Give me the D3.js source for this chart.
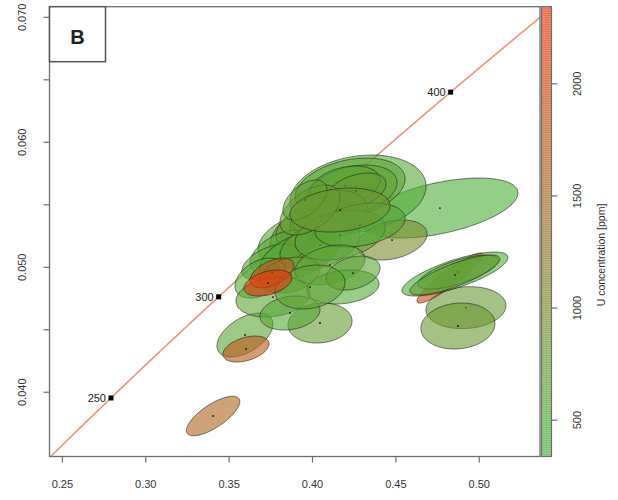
<!DOCTYPE html>
<html><head><meta charset="utf-8">
<script src="https://cdn.jsdelivr.net/npm/d3@7"></script>
<style>
body{margin:0;background:#fff}
svg{display:block;font-family:"Liberation Sans",Arial,Helvetica,sans-serif}
</style>
</head><body>
<svg id="chart" width="618" height="500"></svg>
<script>
// axis ticks
const xTicks = [0.25, 0.30, 0.35, 0.40, 0.45, 0.50];
const yTicks = [0.040, 0.045, 0.050, 0.055, 0.060, 0.065, 0.070];
const yTickLabels = ["0.040", "", "0.050", "", "0.060", "", "0.070"];
const uTicks = [500, 1000, 1500, 2000];
const ageTicks = [250, 300, 350, 400];
const ageLabels = ["250", "300", "350", "400"];

// analyses: 207Pb/235U, 206Pb/238U, their errors, error correlation, U content
const ex   = [0.3404, 0.3595, 0.3601, 0.4920, 0.4872, 0.4824, 0.4854, 0.4872, 0.4854, 0.4764, 0.4273,
              0.4225, 0.4237, 0.4195, 0.4261, 0.4477, 0.3865, 0.3925, 0.3985, 0.4045, 0.4105, 0.3805,
              0.3745, 0.3925, 0.4045, 0.4165, 0.4285, 0.3985, 0.3955, 0.4165, 0.3685, 0.3865, 0.4105,
              0.3763, 0.4183, 0.4045, 0.3865, 0.4243, 0.3985, 0.3757, 0.3733];
const esx  = [0.0160, 0.0168, 0.0138, 0.0240, 0.0222, 0.0198, 0.0318, 0.0240, 0.0270, 0.0468, 0.0408,
              0.0330, 0.0270, 0.0210, 0.0180, 0.0210, 0.0192, 0.0180, 0.0204, 0.0180, 0.0228, 0.0180,
              0.0168, 0.0240, 0.0240, 0.0270, 0.0270, 0.0180, 0.0132, 0.0300, 0.0150, 0.0180, 0.0210,
              0.0222, 0.0216, 0.0192, 0.0180, 0.0162, 0.0210, 0.0132, 0.0144];
const ey   = [0.03810, 0.04458, 0.04346, 0.04677, 0.04530, 0.04914, 0.04946, 0.04962, 0.04938, 0.05474, 0.05586,
              0.05634, 0.05618, 0.05650, 0.05610, 0.05218, 0.05218, 0.05282, 0.05330, 0.05378, 0.05418, 0.05122,
              0.05042, 0.05098, 0.05178, 0.05258, 0.05338, 0.05458, 0.05538, 0.05458, 0.04914, 0.04938, 0.05018,
              0.04762, 0.04842, 0.04554, 0.04634, 0.04954, 0.04842, 0.04954, 0.04874];
const esy  = [0.00158, 0.00176, 0.00104, 0.00168, 0.00184, 0.00200, 0.00176, 0.00136, 0.00160, 0.00240, 0.00312,
              0.00240, 0.00200, 0.00160, 0.00144, 0.00160, 0.00192, 0.00208, 0.00192, 0.00176, 0.00200, 0.00176,
              0.00144, 0.00200, 0.00200, 0.00200, 0.00176, 0.00200, 0.00160, 0.00176, 0.00160, 0.00144, 0.00160,
              0.00160, 0.00136, 0.00160, 0.00136, 0.00136, 0.00176, 0.00120, 0.00104];
const erho = [0.73, 0.50, 0.40, 0.10, 0.10, 0.92, 0.75, 0.70, 0.80, 0.50, 0.20,
              0.30, 0.30, 0.30, 0.40, 0.30, 0.40, 0.50, 0.40, 0.30, 0.20, 0.50,
              0.50, 0.50, 0.40, 0.30, 0.30, 0.50, 0.50, 0.20, 0.40, 0.30, 0.30,
              0.20, 0.20, 0.10, 0.20, 0.30, 0.20, 0.50, 0.40];
const eU   = [1600, 600, 1800, 750, 780, 2100, 450, 550, 700, 450, 500,
              600, 650, 600, 700, 1000, 600, 700, 800, 650, 750, 550,
              600, 500, 700, 600, 550, 650, 700, 800, 500, 650, 600,
              600, 500, 700, 550, 600, 650, 1900, 2344];

// decay constants (per Ma)
const lambda238 = 1.55125e-4;
const lambda235 = 9.8485e-4;

const svg = d3.select("#chart");
const plot = {left: 49.5, right: 540, top: 6.7, bottom: 456.5};

const x = d3.scaleLinear().domain([0.2423, 0.5364]).range([plot.left, plot.right]);
const y = d3.scaleLinear().domain([0.03486, 0.07085]).range([plot.bottom, plot.top]);
const uMin = 338, uMax = 2344;
const col = d3.scaleLinear().domain([uMin, uMax])
  .range(["rgb(70,180,60)", "rgb(235,55,15)"]).interpolate(d3.interpolateRgb);
const fillOpacity = 0.6;

svg.append("defs").append("clipPath").attr("id", "plotclip")
  .append("rect").attr("x", plot.left).attr("y", plot.top)
  .attr("width", plot.right - plot.left).attr("height", plot.bottom - plot.top);

const g = svg.append("g").attr("clip-path", "url(#plotclip)");

// concordia curve
const conc = t => [Math.exp(lambda235 * t) - 1, Math.exp(lambda238 * t) - 1];
const ages = d3.range(200, 470, 1);
g.append("path")
  .datum(ages.map(conc))
  .attr("d", d3.line().x(d => x(d[0])).y(d => y(d[1])))
  .attr("fill", "none").attr("stroke", "darksalmon").attr("stroke-width", 1.6);

// concordia age marks
ageTicks.forEach((t, i) => {
  const p = conc(t);
  g.append("rect").attr("x", x(p[0]) - 2.5).attr("y", y(p[1]) - 2.5)
    .attr("width", 5).attr("height", 5).attr("fill", "#000");
  g.append("text").attr("x", x(p[0]) - 5).attr("y", y(p[1]) + 4)
    .attr("text-anchor", "end").attr("font-size", 11).attr("fill", "#222")
    .text(ageLabels[i]);
});

// error ellipses, each with its centre point
const theta = d3.range(0, 2 * Math.PI, Math.PI / 48);
const ell = d3.line().curve(d3.curveLinearClosed).x(d => x(d[0])).y(d => y(d[1]));
ex.forEach((cx, i) => {
  const r = erho[i], s = Math.sqrt(1 - r * r);
  const pts = theta.map(a => [cx + esx[i] * Math.cos(a),
                              ey[i] + esy[i] * (r * Math.cos(a) + s * Math.sin(a))]);
  g.append("path").attr("d", ell(pts))
    .attr("fill", col(eU[i])).attr("fill-opacity", fillOpacity)
    .attr("stroke", "#1a1a1a").attr("stroke-opacity", 0.7).attr("stroke-width", 0.8);
  g.append("circle").attr("cx", x(cx)).attr("cy", y(ey[i])).attr("r", 0.9)
    .attr("fill", "#111");
});

// plot frame
const axisCol = "#6e6e6e";
svg.append("rect").attr("x", plot.left).attr("y", plot.top)
  .attr("width", plot.right - plot.left).attr("height", plot.bottom - plot.top)
  .attr("fill", "none").attr("stroke", axisCol).attr("stroke-width", 1.3);

// x axis
xTicks.forEach(v => {
  svg.append("line").attr("x1", x(v)).attr("x2", x(v))
    .attr("y1", plot.bottom).attr("y2", plot.bottom + 6)
    .attr("stroke", axisCol).attr("stroke-width", 1.2);
  svg.append("text").attr("x", x(v)).attr("y", 488)
    .attr("text-anchor", "middle").attr("font-size", 11).attr("fill", "#333")
    .text(d3.format(".2f")(v));
});

// y axis
yTicks.forEach((v, i) => {
  svg.append("line").attr("x1", plot.left - 6).attr("x2", plot.left)
    .attr("y1", y(v)).attr("y2", y(v))
    .attr("stroke", axisCol).attr("stroke-width", 1.2);
  if (yTickLabels[i]) {
    svg.append("text")
      .attr("transform", `translate(26,${y(v)}) rotate(-90)`)
      .attr("text-anchor", "middle").attr("font-size", 11).attr("fill", "#333")
      .text(yTickLabels[i]);
  }
});

// panel label
svg.append("rect").attr("x", plot.left).attr("y", plot.top)
  .attr("width", 56).attr("height", 55)
  .attr("fill", "#fff").attr("stroke", "#555").attr("stroke-width", 1.5);
svg.append("text").attr("x", plot.left + 28).attr("y", plot.top + 37)
  .attr("text-anchor", "middle").attr("font-size", 20).attr("font-weight", "bold")
  .attr("fill", "#222").text("B");

// colour bar
const uy = d3.scaleLinear().domain([uMin, uMax]).range([plot.bottom, plot.top]);
const cb = {x: 541.5, w: 10};
const step = (uMax - uMin) / 200;
const steps = d3.range(uMin, uMax, step);
svg.append("g").selectAll("rect").data(steps).join("rect")
  .attr("x", cb.x).attr("width", cb.w)
  .attr("y", d => uy(d + step) - 0.3)
  .attr("height", d => uy(d) - uy(d + step) + 0.6)
  .attr("fill", d => col(d)).attr("fill-opacity", fillOpacity);
svg.append("rect").attr("x", cb.x).attr("y", plot.top).attr("width", cb.w)
  .attr("height", plot.bottom - plot.top).attr("fill", "none")
  .attr("stroke", axisCol).attr("stroke-width", 1.2);
uTicks.forEach(v => {
  svg.append("line").attr("x1", cb.x + cb.w).attr("x2", cb.x + cb.w + 6)
    .attr("y1", uy(v)).attr("y2", uy(v)).attr("stroke", axisCol).attr("stroke-width", 1.2);
  svg.append("text")
    .attr("transform", `translate(581,${uy(v)}) rotate(-90)`)
    .attr("text-anchor", "middle").attr("font-size", 11).attr("fill", "#333")
    .text(v);
});
svg.append("text")
  .attr("transform", `translate(605,255) rotate(-90)`)
  .attr("text-anchor", "middle").attr("font-size", 10.5).attr("fill", "#333")
  .text("U concentration [ppm]");
</script>
</body></html>
